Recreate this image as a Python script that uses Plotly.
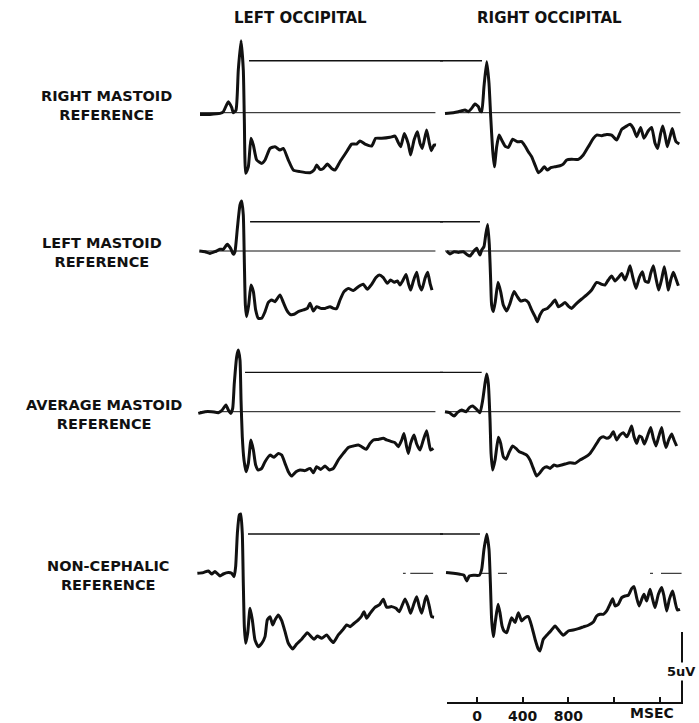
import plotly.graph_objects as go

# ---------------------------------------------------------------------------
# Averaged evoked responses: time after stimulus (ms) and amplitude (uV).
# Two recording sites (left / right occipital) for each of four references.
# ---------------------------------------------------------------------------

# Right mastoid reference
rm_lo_t = [-280, -193, -105, -76, -32, -3, 12, 35, 55, 79, 99, 108, 120, 143, 166, 187, 216, 260, 289, 333,
           376, 420, 449, 493, 537, 595, 683, 718, 741, 770, 799, 834, 872, 901, 945, 1003, 1047, 1091, 1120,
           1164, 1222, 1257, 1310, 1383, 1426, 1455, 1476, 1508, 1543, 1563, 1593, 1622, 1645, 1665, 1703,
           1727, 1744, 1768, 1785]
rm_lo_v = [-0.12, -0.12, -0.05, 0.07, 0.79, 0.38, 0, 0.19, 3.05, 5.14, 3.05, -0.52, -4.33, -3.86, -1.83,
           -2.31, -3.38, -3.62, -3.38, -2.55, -2.43, -2.67, -2.55, -3.38, -4.10, -4.21, -4.29, -4.10, -3.74,
           -4.05, -3.98, -3.67, -3.98, -4.10, -3.50, -2.79, -2.24, -2.24, -2.02, -2.24, -2.38, -1.83, -1.83,
           -1.76, -1.67, -2.14, -2.43, -1.48, -2.24, -3.02, -1.95, -1.36, -2.19, -2.55, -1.24, -2.19, -2.71,
           -2.31, -2.31]
rm_ro_t = [-280, -207, -163, -134, -105, -76, -47, -18, 12, 26, 41, 61, 85, 105, 120, 137, 152, 172, 193, 216,
           245, 274, 312, 353, 391, 420, 449, 478, 508, 537, 560, 589, 615, 645, 683, 726, 755, 785, 828, 887,
           930, 974, 1018, 1047, 1091, 1135, 1178, 1222, 1266, 1310, 1339, 1368, 1397, 1432, 1461, 1499, 1528,
           1558, 1581, 1607, 1625, 1645, 1665, 1689, 1709, 1727, 1741, 1770]
rm_ro_v = [-0.05, 0, 0.07, 0.14, 0.19, 0.07, 0.31, 0.62, 0.43, 0.14, 0.07, 1.86, 3.64, 2.10, -0.29, -2.67,
           -3.86, -2.43, -1.60, -1.95, -2.38, -2.48, -1.90, -2.07, -2.07, -2.38, -2.79, -3.14, -3.74, -4.29,
           -4.14, -3.86, -4.10, -3.93, -3.86, -3.79, -3.67, -3.38, -3.33, -3.33, -3.02, -2.43, -1.83, -1.60,
           -1.64, -1.55, -1.60, -1.95, -1.19, -0.95, -0.83, -1.12, -1.71, -1.05, -1.83, -1.29, -1.05, -2.19,
           -2.55, -1.48, -0.95, -1.60, -2.43, -1.71, -1.12, -1.71, -2.07, -2.24]

# Left mastoid reference
lm_lo_t = [-286, -236, -193, -149, -105, -76, -41, -12, 12, 26, 47, 70, 85, 99, 108, 117, 128, 146, 166, 187,
           207, 230, 260, 289, 318, 347, 376, 420, 449, 478, 508, 543, 580, 624, 659, 683, 712, 741, 776, 814,
           858, 887, 916, 945, 980, 1018, 1062, 1105, 1149, 1184, 1222, 1260, 1289, 1324, 1359, 1388, 1418,
           1447, 1470, 1493, 1523, 1543, 1563, 1587, 1616, 1639, 1660, 1689, 1712, 1733, 1750]
lm_lo_v = [0, -0.05, -0.17, -0.05, 0.12, 0.12, 0.48, 0.19, -0.24, -0.05, 1.62, 3.29, 3.57, 2.57, -0.76, -3.86,
           -4.69, -3.86, -2.43, -2.90, -4.21, -4.81, -4.81, -4.33, -3.67, -3.50, -3.62, -3.14, -3.67, -4.21,
           -4.52, -4.52, -4.33, -4.21, -4.10, -3.74, -4.29, -3.98, -4.10, -4.10, -3.98, -4.10, -4.10, -3.50,
           -2.90, -2.67, -2.83, -2.55, -2.38, -2.74, -2.38, -1.90, -1.71, -1.90, -2.31, -2.07, -2.24, -2.14,
           -2.43, -2.14, -1.67, -2.31, -2.79, -2.14, -1.52, -2.43, -2.79, -1.95, -1.52, -2.31, -2.79]
lm_ro_t = [-265, -236, -201, -163, -120, -90, -61, -32, -3, 26, 41, 61, 76, 93, 108, 120, 128, 143, 160, 184,
           207, 230, 260, 289, 324, 353, 382, 420, 449, 478, 508, 528, 551, 580, 615, 645, 683, 712, 741, 770,
           799, 828, 872, 916, 960, 1003, 1047, 1091, 1120, 1149, 1178, 1208, 1237, 1266, 1295, 1318, 1339,
           1362, 1391, 1420, 1447, 1470, 1499, 1520, 1543, 1566, 1590, 1616, 1639, 1660, 1674, 1695, 1718,
           1741, 1762]
lm_ro_v = [0, -0.21, -0.05, -0.10, -0.05, -0.24, -0.36, -0.05, 0.19, -0.29, 0.07, 0.31, 1.14, 1.90, 0.43,
           -2.19, -3.86, -4.33, -3.62, -2.24, -2.90, -3.86, -4.29, -3.74, -2.90, -3.26, -3.57, -3.50, -3.67,
           -4.21, -4.69, -5.05, -4.57, -4.21, -4.10, -3.86, -3.50, -3.98, -3.86, -3.67, -3.93, -4.10, -3.74,
           -3.43, -3.14, -2.79, -2.24, -2.38, -2.43, -2.07, -1.79, -2.14, -1.90, -1.60, -2.07, -1.60, -1.05,
           -1.83, -2.67, -1.90, -1.48, -2.14, -2.24, -1.60, -1.05, -1.95, -2.79, -2.00, -1.12, -2.07, -2.79,
           -2.07, -1.52, -2.00, -2.48]

# Average mastoid reference
am_lo_t = [-295, -236, -178, -120, -90, -53, -32, -12, 6, 20, 41, 55, 70, 79, 90, 105, 123, 143, 166, 187,
           207, 230, 260, 289, 333, 368, 405, 435, 464, 493, 522, 560, 595, 639, 683, 712, 741, 776, 814, 852,
           887, 930, 974, 1018, 1062, 1105, 1135, 1173, 1208, 1237, 1280, 1324, 1353, 1397, 1426, 1455, 1485,
           1505, 1528, 1543, 1563, 1593, 1616, 1645, 1674, 1703, 1724, 1738, 1762]
am_lo_v = [-0.12, 0, 0, -0.07, 0.07, 0.48, 0.12, -0.12, 0.24, 2.02, 3.93, 4.40, 3.69, 0.83, -1.79, -3.45,
           -4.29, -3.69, -2.02, -2.74, -3.81, -4.17, -4.05, -3.57, -3.10, -3.26, -2.98, -3.10, -3.69, -4.29,
           -4.60, -4.29, -4.17, -4.21, -4.05, -4.36, -3.93, -4.12, -3.88, -4.17, -4.05, -3.45, -2.98, -2.55,
           -2.45, -2.38, -2.50, -2.69, -2.26, -2.02, -1.98, -1.90, -2.02, -2.14, -2.21, -2.50, -2.02, -1.55,
           -2.50, -2.98, -2.26, -1.67, -2.31, -2.74, -2.02, -1.36, -2.26, -2.74, -2.62]
am_ro_t = [-280, -242, -201, -172, -134, -96, -67, -38, -3, 26, 50, 70, 85, 99, 114, 123, 137, 158, 187, 207,
           230, 254, 283, 312, 341, 370, 405, 435, 464, 493, 522, 551, 580, 610, 639, 674, 703, 741, 770, 814,
           858, 901, 945, 989, 1033, 1076, 1105, 1135, 1164, 1193, 1222, 1251, 1280, 1310, 1330, 1353, 1374,
           1397, 1420, 1441, 1464, 1490, 1520, 1543, 1566, 1590, 1616, 1636, 1654, 1677, 1703, 1724, 1747]
am_ro_v = [0, -0.07, -0.31, -0.07, 0.12, 0, 0.29, 0.40, 0.17, -0.07, 0.83, 2.02, 2.69, 2.02, -0.60, -2.98,
           -4.17, -3.45, -1.83, -2.26, -3.21, -3.40, -2.86, -2.45, -2.62, -2.86, -2.98, -3.10, -3.45, -4.05,
           -4.60, -4.36, -4.05, -3.93, -4.05, -3.81, -3.88, -3.81, -3.74, -3.64, -3.69, -3.45, -3.26, -2.98,
           -2.45, -1.90, -1.79, -1.90, -1.79, -1.43, -2.02, -1.67, -1.50, -1.79, -1.50, -1.02, -1.79, -2.26,
           -1.74, -1.83, -2.31, -1.79, -1.12, -1.90, -2.45, -1.79, -1.12, -2.02, -2.55, -2.02, -1.60, -2.02,
           -2.45]

# Non-cephalic reference
nc_lo_t = [-303, -251, -207, -178, -149, -105, -76, -32, -3, 18, 32, 47, 64, 76, 90, 99, 108, 120, 137, 158,
           178, 201, 230, 260, 289, 309, 333, 356, 376, 405, 435, 464, 493, 531, 566, 610, 659, 688, 718, 747,
           785, 828, 858, 887, 930, 968, 1003, 1033, 1062, 1105, 1135, 1155, 1178, 1208, 1251, 1289, 1324,
           1353, 1397, 1435, 1464, 1514, 1543, 1563, 1593, 1616, 1639, 1660, 1689, 1703, 1727, 1747, 1768]
nc_lo_v = [0, 0.05, 0.17, -0.05, 0.12, -0.19, -0.05, 0.05, 0, -0.24, 0.48, 2.86, 4.17, 4.24, 2.86, -0.71,
           -3.81, -5.00, -4.29, -2.50, -3.33, -4.76, -5.24, -5.00, -4.52, -3.33, -3.10, -3.69, -3.33, -2.98,
           -3.38, -4.17, -5.00, -5.40, -5.05, -4.71, -4.24, -4.48, -4.71, -4.48, -4.64, -4.40, -4.71, -4.95,
           -4.40, -4.05, -3.69, -3.81, -3.62, -3.33, -3.05, -2.74, -3.21, -2.86, -2.43, -2.26, -1.86, -2.43,
           -2.38, -2.50, -2.74, -1.83, -2.38, -2.86, -2.14, -1.67, -2.38, -2.86, -1.90, -1.62, -2.38, -3.10,
           -3.14]
nc_ro_t = [-271, -207, -149, -114, -90, -67, -32, 20, 41, 61, 85, 105, 117, 128, 143, 163, 184, 201, 219, 236,
           260, 283, 303, 333, 362, 391, 420, 449, 478, 508, 537, 551, 580, 610, 645, 683, 720, 755, 799, 843,
           887, 930, 974, 1018, 1047, 1076, 1105, 1135, 1164, 1187, 1208, 1237, 1266, 1295, 1324, 1353, 1374,
           1397, 1418, 1441, 1461, 1485, 1514, 1537, 1558, 1587, 1616, 1636, 1660, 1683, 1712, 1735, 1753,
           1776]
nc_ro_v = [0.05, 0, -0.07, -0.14, -0.55, -0.19, -0.14, -0.14, 0.29, 1.71, 2.79, 1.71, -0.67, -3.29, -4.52,
           -3.29, -2.21, -2.81, -3.76, -4.12, -4.24, -3.64, -3.17, -3.52, -2.81, -3.40, -3.17, -3.10, -3.76,
           -4.71, -5.43, -5.55, -4.71, -4.43, -4.12, -3.76, -4.12, -4.43, -4.12, -4.05, -3.95, -3.83, -3.71,
           -3.48, -3.05, -2.93, -2.93, -2.69, -2.21, -1.81, -2.33, -2.21, -1.74, -1.62, -1.57, -1.10, -0.95,
           -1.74, -2.33, -1.86, -1.50, -1.98, -1.14, -1.86, -2.45, -1.50, -1.02, -1.62, -2.69, -1.86, -1.26,
           -2.10, -2.62, -2.57]

# Row titles
row_titles = ["RIGHT MASTOID<br>REFERENCE", "LEFT MASTOID<br>REFERENCE",
              "AVERAGE MASTOID<br>REFERENCE", "NON-CEPHALIC<br>REFERENCE"]
col_titles = ["LEFT OCCIPITAL", "RIGHT OCCIPITAL"]

# Horizontal marker level (uV) drawn from the left peak across to the right peak
marker_level = [3.71, 2.09, 2.81, 2.81]
marker_start_left = [149, 158, 114, 140]   # ms, left column
marker_end_right = [44, 26, 41, 26]        # ms, right column

# Zero line extent (ms)
zero_span = [-280, 1780]

# Time scale
time_ticks = [0, 400, 800, 1200, 1600]
time_tick_text = ["0", "400", "800", "", ""]
scale_uv = 5

waves = [
    [(rm_lo_t, rm_lo_v), (rm_ro_t, rm_ro_v)],
    [(lm_lo_t, lm_lo_v), (lm_ro_t, lm_ro_v)],
    [(am_lo_t, am_lo_v), (am_ro_t, am_ro_v)],
    [(nc_lo_t, nc_lo_v), (nc_ro_t, nc_ro_v)],
]

# ---------------------------------------------------------------------------
# Page geometry (pixels)
# ---------------------------------------------------------------------------
W, H = 699, 723
MS_PER_PX = 8.75          # horizontal scale: 400 ms ~ 46 px
PX_PER_UV = 14.0          # vertical scale: 5 uV = 70 px

col_zero_px = [232, 477]                 # x pixel of t = 0 in each column
col_dom_px = [(186, 443), (440, 699)]
row_base_px = [112.7, 251.0, 411.7, 573.3]
row_dom_px = [(26, 192), (192, 342), (342, 502), (502, 700)]

FONT = "DejaVu Sans"
INK = "#111111"


def fx(px):
    return px / W


def fy(px):
    return 1 - px / H


fig = go.Figure()
layout_axes = {}

for r in range(4):
    for c in range(2):
        k = r * 2 + c + 1
        xl, xr = col_dom_px[c]
        yt, yb = row_dom_px[r]
        x0 = col_zero_px[c]
        base = row_base_px[r]
        xrange_ = [(xl - x0) * MS_PER_PX, (xr - x0) * MS_PER_PX]
        yrange_ = [(base - yb) / PX_PER_UV, (base - yt) / PX_PER_UV]
        layout_axes[f"xaxis{k}"] = dict(domain=[fx(xl), fx(xr)], range=xrange_, visible=False,
                                        anchor=f"y{k}", fixedrange=True)
        layout_axes[f"yaxis{k}"] = dict(domain=[fy(yb), fy(yt)], range=yrange_, visible=False,
                                        anchor=f"x{k}", fixedrange=True)
        xa, ya = f"x{k}", f"y{k}"

        # zero line
        if r < 3:
            fig.add_trace(go.Scatter(x=zero_span, y=[0, 0], xaxis=xa, yaxis=ya, mode="lines",
                                     line=dict(color=INK, width=1), hoverinfo="skip"))
        else:
            segs = [(1496, 1520), (1560, 1760)] if c == 0 else [(26, 315), (1514, 1540), (1610, 1790)]
            for i, (a, b) in enumerate(segs):
                fig.add_trace(go.Scatter(x=[a, b], y=[0, 0], xaxis=xa, yaxis=ya, mode="lines",
                                         line=dict(color=INK, width=1,
                                                   dash="dash" if (c == 1 and i == 0) else "solid"),
                                         hoverinfo="skip"))

        # peak marker line
        if c == 0:
            mx = [marker_start_left[r], xrange_[1]]
        else:
            mx = [xrange_[0], marker_end_right[r]]
        fig.add_trace(go.Scatter(x=mx, y=[marker_level[r]] * 2, xaxis=xa, yaxis=ya, mode="lines",
                                 line=dict(color=INK, width=1.4), hoverinfo="skip"))

        # waveform
        t, v = waves[r][c]
        fig.add_trace(go.Scatter(x=t, y=v, xaxis=xa, yaxis=ya, mode="lines",
                                 line=dict(color=INK, width=3, shape="spline", smoothing=0.5),
                                 hoverinfo="skip"))

# Calibration: time axis and 5 uV bar
sx_l, sx_r = 447, 681
sy_t, sy_b = 632, 702
layout_axes["xaxis9"] = dict(
    domain=[fx(sx_l), fx(sx_r)],
    range=[(sx_l - col_zero_px[1]) * MS_PER_PX, (sx_r - col_zero_px[1]) * MS_PER_PX],
    anchor="y9", showline=True, linecolor=INK, linewidth=1.6, showgrid=False, zeroline=False,
    ticks="inside", ticklen=5, tickwidth=1.6, tickcolor=INK,
    tickmode="array", tickvals=time_ticks, ticktext=time_tick_text,
    tickfont=dict(family=FONT, size=14, color=INK, weight="bold"), fixedrange=True)
layout_axes["yaxis9"] = dict(
    domain=[fy(sy_b), fy(sy_t)], range=[0, scale_uv], anchor="x9", side="right",
    showline=True, linecolor=INK, linewidth=2.2, showgrid=False, zeroline=False,
    showticklabels=False, ticks="", fixedrange=True)
fig.add_trace(go.Scatter(x=[0], y=[0], xaxis="x9", yaxis="y9", mode="markers",
                         marker=dict(opacity=0), hoverinfo="skip"))

annotations = []


def label(text, x, y, size=15, **kw):
    annotations.append(dict(text=text, x=fx(x), y=fy(y), xref="paper", yref="paper",
                            showarrow=False, xanchor="center", yanchor="middle", align="center",
                            font=dict(family=FONT, size=size, color=INK, weight="bold"), **kw))


label(col_titles[0], 300, 18)
label(col_titles[1], 549, 18)

row_title_pos = [(106, 105), (102, 253), (104, 414), (108, 575)]
for r in range(4):
    label(row_titles[r], *row_title_pos[r], size=14.5)

label("MSEC", 652, 713, size=14)
label(f"{scale_uv}uV", 681, 671, size=13, bgcolor="white", borderpad=1)

fig.update_layout(
    width=W, height=H, margin=dict(l=0, r=0, t=0, b=0),
    paper_bgcolor="white", plot_bgcolor="rgba(0,0,0,0)",
    showlegend=False, annotations=annotations, **layout_axes)

fig.write_html("out.html")
